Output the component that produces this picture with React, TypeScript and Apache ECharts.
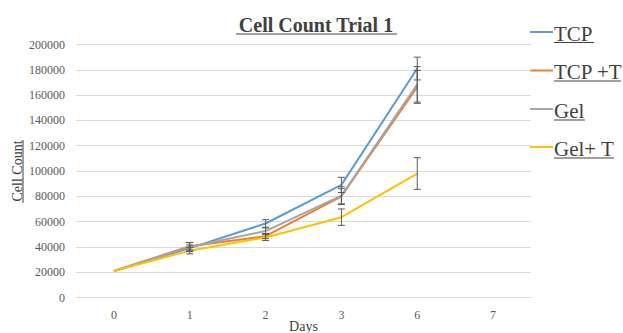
import React, { useEffect, useRef } from "react";
import * as echarts from "echarts";

const days = ["0", "1", "2", "3", "6", "7"];
const seriesNames = ["TCP", "TCP +T", "Gel", "Gel+ T"];
const colors = ["#5B9BD5", "#ED7D31", "#A5A5A5", "#FFC000"];

const tcp = [21000, 39000, 58500, 89000, 181000, null];
const tcpT = [21000, 40500, 48500, 80000, 166500, null];
const gel = [21000, 40000, 52500, 80500, 168500, null];
const gelT = [21000, 37000, 47500, 63500, 98000, null];

const tcpErr = [0, 2500, 3000, 6000, 9000, 0];
const tcpTErr = [0, 3000, 2000, 6000, 13000, 0];
const gelErr = [0, 3500, 2500, 7000, 14000, 0];
const gelTErr = [0, 2500, 2500, 6500, 12500, 0];

const yTicks = { min: 0, max: 200000, interval: 20000 };

const FONT = "Liberation Serif";

export default function App() {
  const ref = useRef<HTMLDivElement>(null);
  useEffect(() => {
    if (!ref.current) return;
    const chart = echarts.init(ref.current, undefined, { renderer: "svg" });
    const values = [tcp, tcpT, gel, gelT];
    const errs = [tcpErr, tcpTErr, gelErr, gelTErr];

    const lineSeries = values.map((v, i) => ({
      name: seriesNames[i],
      type: "line",
      data: v,
      showSymbol: false,
      symbol: "none",
      lineStyle: { width: 2, color: colors[i] },
      itemStyle: { color: colors[i] },
      z: 2 + i,
    }));

    const errSeries = values.map((v, i) => ({
      name: seriesNames[i] + " err",
      type: "custom",
      z: 10,
      data: v
        .map((val, k) =>
          val == null || !errs[i][k] ? null : [k, val - errs[i][k], val + errs[i][k]]
        )
        .filter((d) => d != null),
      renderItem: (params: any, api: any) => {
        const x = api.value(0);
        const lo = api.coord([x, api.value(1)]);
        const hi = api.coord([x, api.value(2)]);
        const cap = 3.5;
        const style = { stroke: "#595959", lineWidth: 1 };
        return {
          type: "group",
          children: [
            { type: "line", shape: { x1: lo[0], y1: lo[1], x2: hi[0], y2: hi[1] }, style },
            { type: "line", shape: { x1: lo[0] - cap, y1: lo[1], x2: lo[0] + cap, y2: lo[1] }, style },
            { type: "line", shape: { x1: hi[0] - cap, y1: hi[1], x2: hi[0] + cap, y2: hi[1] }, style },
          ],
        };
      },
    }));

    const ulStyle = { stroke: "#404040", lineWidth: 1 };

    const legendLineY = [32, 70.5, 109, 147];
    const legendTextY = [33.5, 72, 111, 149];
    const legendTextEnd = [594, 621, 585, 614];
    const legendGraphics: any[] = [];
    seriesNames.forEach((name, i) => {
      legendGraphics.push({
        type: "line",
        shape: { x1: 530, y1: legendLineY[i], x2: 553, y2: legendLineY[i] },
        style: { stroke: colors[i], lineWidth: 2 },
      });
      legendGraphics.push({
        type: "text",
        x: 554,
        y: legendTextY[i],
        style: {
          text: name,
          fontFamily: FONT,
          fontWeight: 500,
          fontSize: 21,
          fill: "#404040",
          verticalAlign: "middle",
          align: "left",
        },
      });
      legendGraphics.push({
        type: "line",
        shape: { x1: 554, y1: legendTextY[i] + 9, x2: legendTextEnd[i], y2: legendTextY[i] + 9 },
        style: ulStyle,
      });
    });

    chart.setOption({
      animation: false,
      backgroundColor: "#ffffff",
      textStyle: { fontFamily: FONT },
      title: {
        text: "Cell Count Trial 1",
        left: 316,
        top: 15,
        padding: 0,
        textAlign: "center",
        textStyle: { fontFamily: FONT, fontSize: 20, fontWeight: "bold", color: "#404040" },
      },
      grid: { left: 76, right: 92, top: 44.5, bottom: 35.5, containLabel: false, outerBoundsMode: "none" },
      xAxis: {
        type: "category",
        data: days,
        boundaryGap: true,
        name: "Days",
        nameLocation: "middle",
        nameGap: 22,
        nameMoveOverlap: false,
        nameTextStyle: { fontFamily: FONT, fontWeight: 500, fontSize: 14, color: "#404040" },
        axisLine: { show: true, lineStyle: { color: "#d9d9d9" } },
        axisTick: { show: false },
        axisLabel: { fontFamily: FONT, fontWeight: 500, fontSize: 12, color: "#595959", margin: 11 },
      },
      yAxis: {
        type: "value",
        min: yTicks.min,
        max: yTicks.max,
        interval: yTicks.interval,
        name: "Cell Count",
        nameLocation: "middle",
        nameGap: 52,
        nameRotate: 90,
        nameMoveOverlap: false,
        nameTextStyle: { fontFamily: FONT, fontWeight: 500, fontSize: 14, color: "#404040" },
        axisLine: { show: false },
        axisTick: { show: false },
        splitLine: { lineStyle: { color: "#d9d9d9" } },
        axisLabel: {
          fontFamily: FONT,
          fontWeight: 500,
          fontSize: 12,
          color: "#595959",
          margin: 11,
          formatter: (v: number) => String(v),
        },
      },
      graphic: [
        { type: "line", shape: { x1: 236, y1: 34, x2: 397, y2: 34 }, style: ulStyle },
        { type: "line", shape: { x1: 23, y1: 140, x2: 23, y2: 203 }, style: ulStyle },
        ...legendGraphics,
      ],
      series: [...lineSeries, ...errSeries],
    });
    return () => chart.dispose();
  }, []);
  return <div ref={ref} style={{ width: 623, height: 333, position: "absolute", left: 0, top: 0 }} />;
}
